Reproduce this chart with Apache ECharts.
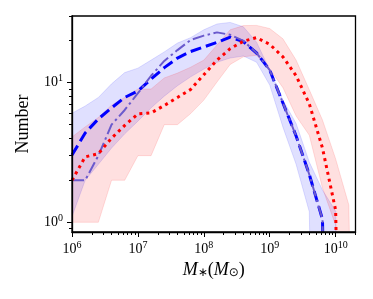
<!DOCTYPE html>
<html><head><meta charset="utf-8">
<script src="https://cdn.jsdelivr.net/npm/echarts@6/dist/echarts.min.js"></script>
<style>html,body{margin:0;padding:0;background:#fff}#c{width:373px;height:299px}</style>
</head><body><div id="c"></div>
<script>
// log10 of stellar mass bin centres
const logMass   = [6.0,6.2,6.4,6.6,6.8,7.0,7.2,7.4,7.6,7.8,8.0,8.2,8.4,8.6,8.8,9.0,9.2,9.4,9.6,9.8,10.0,10.2,10.4];
// red dotted line and its band
const redLine   = [2.0,2.94,3.1,4.0,4.94,5.97,6.07,6.86,7.83,8.94,11.4,14.5,17.5,19.8,21.0,18.8,15.3,11.2,7.05,3.4,1.22,0,0];
const redUpper  = [4.08,4.82,5.63,6.9,7.83,9.0,9.0,10.8,11.7,12.9,14.5,18.6,23.9,25.6,25.7,24.4,20.6,14.5,8.9,5.4,2.84,1.33,0];
const redLower  = [1,1,1,2,2,3,3,5,5,6,7.5,10.1,13.5,15.3,15.7,12.5,9.2,5.77,4.2,1.76,0.95,0,0];
// blue dashed line
const blueDashed = [3.03,4.36,5.5,6.59,7.83,8.7,10.6,12.8,15.0,16.7,18.0,19.4,21.2,19.7,16.3,12.3,7.15,4.15,2.2,1.05,0,0,0];
// slate-blue dash-dot line
const slateDashDot = [2.0,2.0,3.0,5.0,6.37,8.4,11.2,14.3,17.1,20.2,21.7,22.9,22.0,19.9,16.3,12.3,7.15,4.15,2.2,1.05,0,0,0];
// blue band
const blueUpper = [6.04,6.8,7.83,9.8,11.8,12.7,14.5,16.6,19.2,21.0,23.9,26.3,27.0,25.1,19.5,12.3,7.5,5.1,2.7,1.7,1.2,0,0];
const blueLower = [1.1,2.0,2.6,3.4,4.3,5.3,6.6,8.0,9.5,11.0,12.5,14.0,15.0,15.5,14.0,9.6,4.8,2.6,1.19,0,0,0,0];
// axis ticks
const xMajorExp = [6,7,8,9,10];
const yMajorExp = [0,1];
const minorMult = [2,3,4,5,6,7,8,9];
const yExtraMinor = [0.9,20,30];
const xMax = 2e10, yMin = 0.852, yMax = 30;

const L = v => v > 0 ? Math.log10(v) : -5;
const xMinor = [];
xMajorExp.forEach(n => minorMult.forEach(k => { const v = n + Math.log10(k); if (v <= Math.log10(xMax) + 1e-9) xMinor.push(v); }));
const yMinor = [];
yMajorExp.forEach(n => minorMult.forEach(k => { const v = n + Math.log10(k); if (v <= Math.log10(yMax) + 1e-9) yMinor.push(v); }));
yExtraMinor.forEach(v => yMinor.push(Math.log10(v)));

const FONT = 'Liberation Serif';
const rich = {
  b: {fontSize: 14, fontFamily: FONT, color: '#000'},
  s: {fontSize: 10, fontFamily: FONT, color: '#000', padding: [0, 0, 8, 0]}
};
const pw = v => '{b|10}{s|' + Math.round(v) + '}';

function band(upper, lower, fill, stroke, z) {
  return {
    type: 'custom', coordinateSystem: 'cartesian2d', xAxisIndex: 0, yAxisIndex: 0,
    clip: true, silent: true, z: z,
    data: [[logMass[0], L(upper[0])]],
    renderItem: (params, api) => {
      const pts = [];
      for (let i = 0; i < logMass.length; i++) pts.push(api.coord([logMass[i], L(upper[i])]));
      for (let i = logMass.length - 1; i >= 0; i--) pts.push(api.coord([logMass[i], L(lower[i])]));
      return {type: 'polygon', shape: {points: pts}, style: {fill: fill, stroke: stroke, lineWidth: 1}};
    }
  };
}
function line(vals, color, width, dash, z) {
  return {
    type: 'line', xAxisIndex: 0, yAxisIndex: 0, showSymbol: false, symbol: 'none', silent: true, z: z,
    clip: true, animation: false,
    data: logMass.map((m, i) => [m, L(vals[i])]),
    lineStyle: {color: color, width: width, type: dash, cap: 'butt'}
  };
}

const chart = echarts.init(document.getElementById('c'), null, {renderer: 'canvas'});
chart.setOption({
  animation: false,
  backgroundColor: '#fff',
  grid: {left: 72, top: 16, width: 283.5, height: 216, show: true, borderColor: '#000', borderWidth: 1.3, backgroundColor: 'transparent', z: 10},
  xAxis: [
    {type: 'value', min: 6, max: Math.log10(xMax), position: 'bottom', z: 6,
     axisLine: {show: true, onZero: false, lineStyle: {color: '#000', width: 1.3}},
     splitLine: {show: false},
     axisTick: {show: true, length: 5, lineStyle: {color: '#000', width: 1}, customValues: xMajorExp},
     axisLabel: {show: true, customValues: xMajorExp, margin: 8, formatter: pw, rich: rich},
     name: '{i|M}{sub|∗}{n|(}{i|M}{sub|⊙}{n|)}', nameLocation: 'middle', nameGap: 28,
     nameTextStyle: {rich: {
       i: {fontSize: 18, fontFamily: FONT, fontStyle: 'italic', color: '#000'},
       n: {fontSize: 18, fontFamily: FONT, color: '#000'},
       sub: {fontSize: 12, fontFamily: 'DejaVu Sans', color: '#000', padding: [6, 0, 0, 0]}
     }}
    },
    {type: 'value', min: 6, max: Math.log10(xMax), position: 'bottom', z: 6,
     axisLine: {show: false, onZero: false}, splitLine: {show: false}, axisLabel: {show: false},
     axisTick: {show: true, length: 3, lineStyle: {color: '#000', width: 1}, customValues: xMinor}
    }
  ],
  yAxis: [
    {type: 'value', min: Math.log10(yMin), max: Math.log10(yMax), position: 'left', z: 6,
     axisLine: {show: true, onZero: false, lineStyle: {color: '#000', width: 1.3}},
     splitLine: {show: false},
     axisTick: {show: true, length: 5, lineStyle: {color: '#000', width: 1}, customValues: yMajorExp},
     axisLabel: {show: true, customValues: yMajorExp, margin: 9, formatter: pw, rich: rich},
     name: 'Number', nameLocation: 'middle', nameGap: 40, nameRotate: 90,
     nameTextStyle: {fontSize: 18, fontFamily: FONT, color: '#000'}
    },
    {type: 'value', min: Math.log10(yMin), max: Math.log10(yMax), position: 'left', z: 6,
     axisLine: {show: false, onZero: false}, splitLine: {show: false}, axisLabel: {show: false},
     axisTick: {show: true, length: 3, lineStyle: {color: '#000', width: 1}, customValues: yMinor}
    }
  ],
  series: [
    band(blueUpper, blueLower, 'rgba(0,0,255,0.12)', 'rgba(0,0,255,0.12)', 1),
    band(redUpper, redLower, 'rgba(255,0,0,0.12)', 'rgba(255,0,0,0.12)', 1),
    line(blueDashed, '#0000ff', 3, [11, 5], 3),
    line(slateDashDot, '#6a5acd', 2, [12, 3.5, 2.5, 3.5], 4),
    line(redLine, '#ff0000', 3, [3, 4], 5)
  ]
});
</script></body></html>
